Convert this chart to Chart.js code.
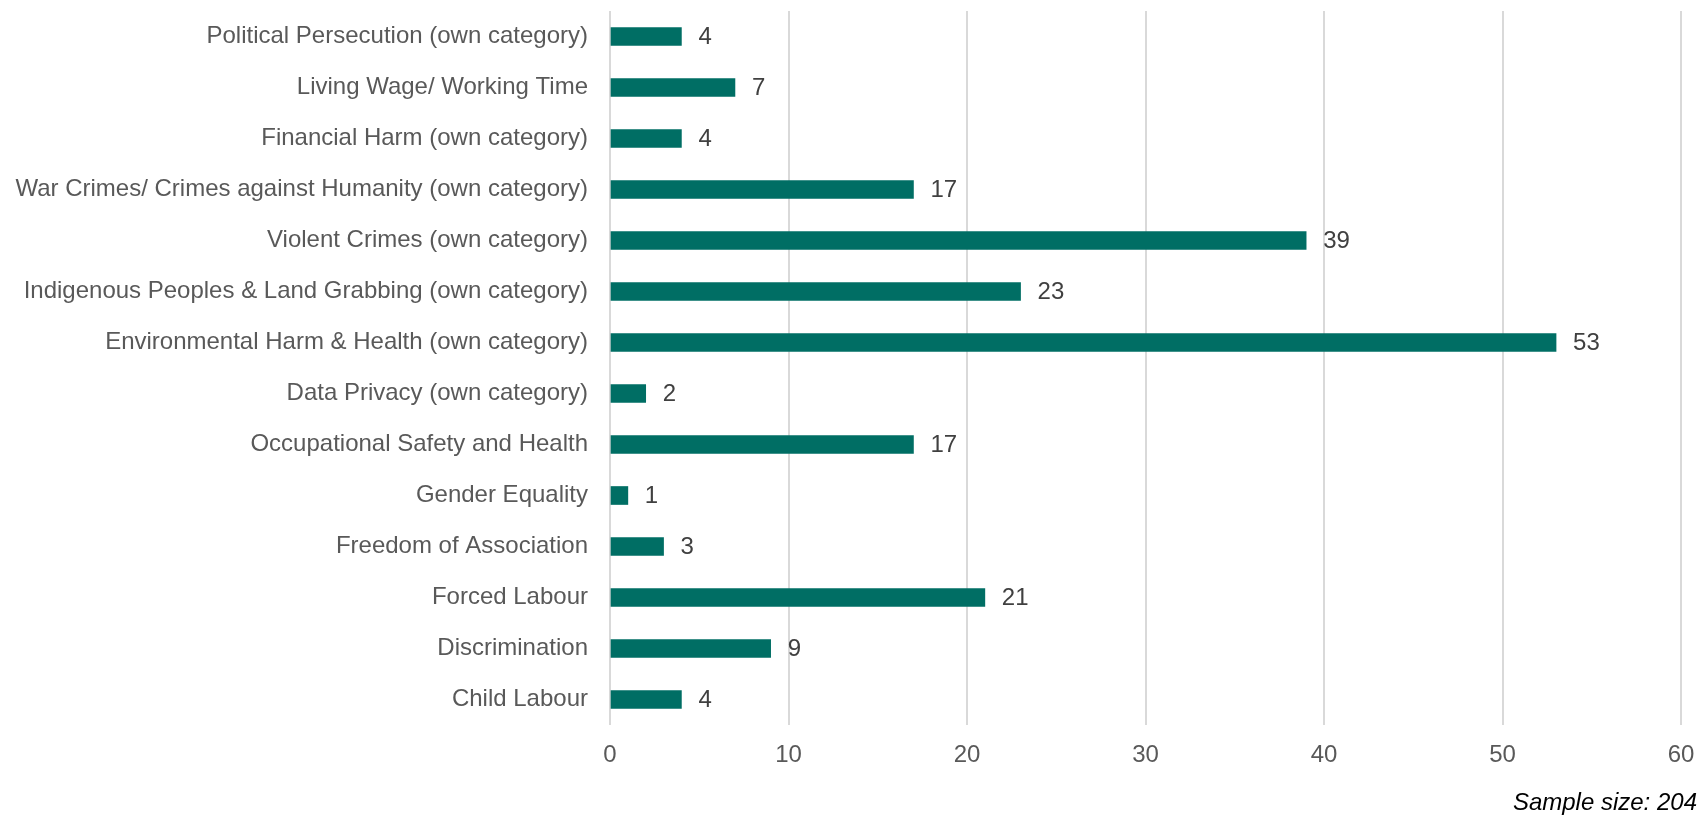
<!DOCTYPE html>
<html>
<head>
<meta charset="utf-8">
<title>Sample size chart</title>
<script src="https://cdn.jsdelivr.net/npm/chart.js@4"></script>
<style>
  html, body { margin: 0; padding: 0; background: #ffffff; }
  #wrap { position: relative; width: 1701px; height: 821px; }
  #sample-note {
    position: absolute;
    right: 4px;
    top: 788px;
    font: italic 24px 'Liberation Sans', Arial, sans-serif;
    color: #000000;
  }
</style>
</head>
<body>
<div id="wrap">
  <canvas id="my-chart" width="1701" height="821"></canvas>
  <div id="sample-note">Sample size: 204</div>
</div>
<script>
'use strict';

//**************GLOBALS********** */
let categories = [
  'Political Persecution (own category)',
  'Living Wage/ Working Time',
  'Financial Harm (own category)',
  'War Crimes/ Crimes against Humanity (own category)',
  'Violent Crimes (own category)',
  'Indigenous Peoples & Land Grabbing (own category)',
  'Environmental Harm & Health (own category)',
  'Data Privacy (own category)',
  'Occupational Safety and Health',
  'Gender Equality',
  'Freedom of Association',
  'Forced Labour',
  'Discrimination',
  'Child Labour'
];
let counts = [4, 7, 4, 17, 39, 23, 53, 2, 17, 1, 3, 21, 9, 4];
let xTicks = [0, 10, 20, 30, 40, 50, 60];

let fontFamily = "'Liberation Sans', Arial, sans-serif";

//*************CANVAS ELEMENT FOR CHART********* */
let ctx = document.getElementById('my-chart');

//***************Plugin to write the value next to each bar************* */
let valueLabels = {
  id: 'valueLabels',
  afterDatasetsDraw(chart) {
    let c = chart.ctx;
    let meta = chart.getDatasetMeta(0);
    c.save();
    c.font = '24px ' + fontFamily;
    c.fillStyle = '#404040';
    c.textAlign = 'left';
    c.textBaseline = 'middle';
    for (let i = 0; i < meta.data.length; i++) {
      let bar = meta.data[i];
      c.fillText(String(counts[i]), bar.x + 17, bar.y + 1);
    }
    c.restore();
  }
};

let chartObj = {
  type: 'bar',
  data: {
    labels: categories,
    datasets: [{
      data: counts,
      backgroundColor: '#006E64',
      borderWidth: 0,
      barThickness: 18
    }]
  },
  options: {
    indexAxis: 'y',
    responsive: false,
    animation: false,
    layout: {
      padding: { top: 11, right: 20, bottom: 0, left: 0 }
    },
    plugins: {
      legend: { display: false },
      tooltip: { enabled: false }
    },
    scales: {
      x: {
        min: 0,
        max: 60,
        afterBuildTicks: function (scale) {
          scale.ticks = xTicks.map(v => ({ value: v }));
        },
        afterFit: function (scale) {
          // fixed box so the plot area lands where the original has it
          scale.height = 96;
          scale.paddingLeft = 0;
          scale.paddingRight = 0;
        },
        grid: {
          color: '#D9D9D9',
          lineWidth: 2,
          drawTicks: false
        },
        border: { display: false },
        ticks: {
          padding: 16,
          color: '#595959',
          font: { family: fontFamily, size: 24 }
        }
      },
      y: {
        afterFit: function (scale) {
          scale.width = 610;
          scale.paddingTop = 0;
          scale.paddingBottom = 0;
        },
        grid: { display: false, drawTicks: false },
        border: { display: false },
        ticks: {
          padding: 22,
          color: '#595959',
          font: { family: fontFamily, size: 24 }
        }
      }
    }
  },
  plugins: [valueLabels]
};

new Chart(ctx, chartObj);
</script>
</body>
</html>
